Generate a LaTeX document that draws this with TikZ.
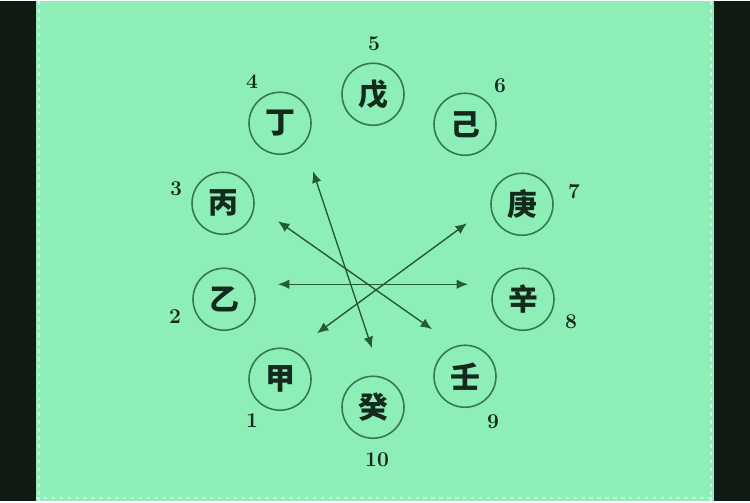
\documentclass[tikz,border=0pt]{standalone}
\usepackage{fontspec}
\newfontfamily\cjk{Noto Sans CJK SC}
\usetikzlibrary{arrows.meta}
\definecolor{bggreen}{RGB}{142,238,184}
\definecolor{frame}{RGB}{16,26,18}
\definecolor{ring}{RGB}{52,120,82}
\definecolor{shaft}{RGB}{36,90,58}
\definecolor{ink}{RGB}{20,42,28}
\definecolor{edge}{RGB}{205,245,222}

\tikzset{
  stem/.style={circle, draw=ring, line width=0.9pt, minimum size=1.24cm, inner sep=0pt,
    text=ink, font=\cjk\bfseries\fontsize{17}{17}\selectfont},
  num/.style={text=ink, inner sep=0pt, font=\bfseries\fontsize{12}{12}\selectfont},
  link/.style={draw=shaft, line width=0.8pt, {Latex[length=6.5pt,width=5.5pt]}-{Latex[length=6.5pt,width=5.5pt]}},
  rim/.style={edge, line width=1.4pt, dash pattern=on 2pt off 2.5pt}
}

\begin{document}
\begin{tikzpicture}[x=0.02cm, y=-0.02cm]

  % Background
  \fill[frame] (0,0) rectangle (750,500);
  \fill[bggreen] (36,0) rectangle (714,500);
  \draw[rim] (39,0) -- (39,500);
  \draw[rim] (711,0) -- (711,500);
  \draw[rim] (36,497) -- (714,497);

  % Define nodes
  \node[stem] (jia)  at (280,378) {甲};
  \node[stem] (yi)   at (224,298) {乙};
  \node[stem] (bing) at (223,202) {丙};
  \node[stem] (ding) at (280,122) {丁};
  \node[stem] (wu)   at (373,93)  {戊};
  \node[stem] (ji)   at (465,123) {己};
  \node[stem] (geng) at (522,203) {庚};
  \node[stem] (xin)  at (523,298) {辛};
  \node[stem] (ren)  at (465,375) {壬};
  \node[stem] (gui)  at (373,406) {癸};

  % Numbers
  \node[num] (n1)  at (252,419) {1};
  \node[num] (n2)  at (175,315) {2};
  \node[num] (n3)  at (176,187) {3};
  \node[num] (n4)  at (252,80)  {4};
  \node[num] (n5)  at (374,42)  {5};
  \node[num] (n6)  at (500,84)  {6};
  \node[num] (n7)  at (574,190) {7};
  \node[num] (n8)  at (571,320) {8};
  \node[num] (n9)  at (493,420) {9};
  \node[num] (n10) at (377,458) {10};

  % Arrow ends
  \coordinate (dingA) at (313,170);
  \coordinate (guiA)  at (372,347);
  \coordinate (bingA) at (278,220);
  \coordinate (renA)  at (432,328);
  \coordinate (yiA)   at (278,283);
  \coordinate (xinA)  at (468,283);
  \coordinate (jiaA)  at (317,332);
  \coordinate (gengA) at (467,222);

  % Connect the nodes
  \draw[link] (dingA) -- (guiA);
  \draw[link] (bingA) -- (renA);
  \draw[link] (yiA)   -- (xinA);
  \draw[link] (jiaA)  -- (gengA);
\end{tikzpicture}
\end{document}
